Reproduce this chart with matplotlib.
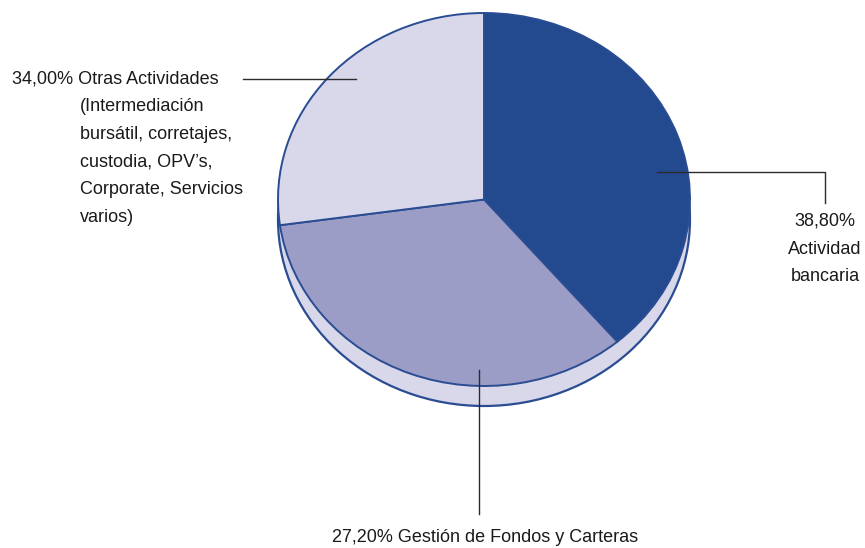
import matplotlib
matplotlib.use("Agg")
import matplotlib.pyplot as plt
from matplotlib.patches import Ellipse

# Slice sizes in drawing order (clockwise from the top), as they appear in the picture
slice_values = [38.80, 34.00, 27.20]
slice_colors = ["#234a8f", "#9b9dc6", "#d9d8ea"]
side_color = "#d9d8ea"
edge_color = "#2a4c92"

label_bancaria = "38,80%\nActividad\nbancaria"
label_gestion = "27,20% Gestión de Fondos y Carteras"
label_otras_first = "34,00% Otras Actividades"
label_otras_rest = "(Intermediación\nbursátil, corretajes,\ncustodia, OPV\u2019s,\nCorporate, Servicios\nvarios)"

W, H = 865, 548
fig = plt.figure(figsize=(W / 100, H / 100), dpi=100)
fig.patch.set_facecolor("white")

# pie axes: ellipse spans x 278..690, y 13..386 (pixels)
x0, x1, y0, y1 = 278, 690, 13, 386
ax = fig.add_axes([x0 / W, (H - y1) / H, (x1 - x0) / W, (y1 - y0) / H])
ax.set_zorder(2)
ax.patch.set_alpha(0)
depth = 20 / ((y1 - y0) / 2)

side = Ellipse((0, -depth), 2, 2, facecolor=side_color, edgecolor=edge_color,
               linewidth=1.6, clip_on=False, zorder=1)
ax.add_patch(side)

wedges, _ = ax.pie(slice_values, colors=slice_colors, startangle=90, counterclock=False,
                   radius=1, wedgeprops=dict(edgecolor=edge_color, linewidth=1.4))
for w in wedges:
    w.set_clip_on(False)
    w.set_zorder(2)
ax.set_aspect("auto")
ax.set_xlim(-1, 1)
ax.set_ylim(-1, 1)
ax.axis("off")

# leader lines and labels in pixel coordinates
ln = fig.add_axes([0, 0, 1, 1])
ln.set_zorder(3)
ln.patch.set_alpha(0)
ln.set_xlim(0, W)
ln.set_ylim(H, 0)
ln.axis("off")
lc = "#2b2b2b"
ln.plot([243, 356], [79, 79], color=lc, lw=1.0)
ln.plot([657, 825, 825], [171.5, 171.5, 203], color=lc, lw=1.0)
ln.plot([479, 479], [370, 514], color=lc, lw=1.0)

fam = ["Liberation Sans", "DejaVu Sans"]
fs = 13
tc = "#1a1a1a"
ls = 1.82
ln.text(12, 79, label_otras_first, family=fam, fontsize=fs, color=tc, ha="left", va="center")
ln.text(80, 98, label_otras_rest, family=fam, fontsize=fs, color=tc, ha="left", va="top",
        linespacing=ls)
ln.text(825, 213, label_bancaria, family=fam, fontsize=fs, color=tc, ha="center", va="top",
        linespacing=ls)
ln.text(485, 537, label_gestion, family=fam, fontsize=fs, color=tc, ha="center", va="center")

fig.savefig("out.png", dpi=100)
